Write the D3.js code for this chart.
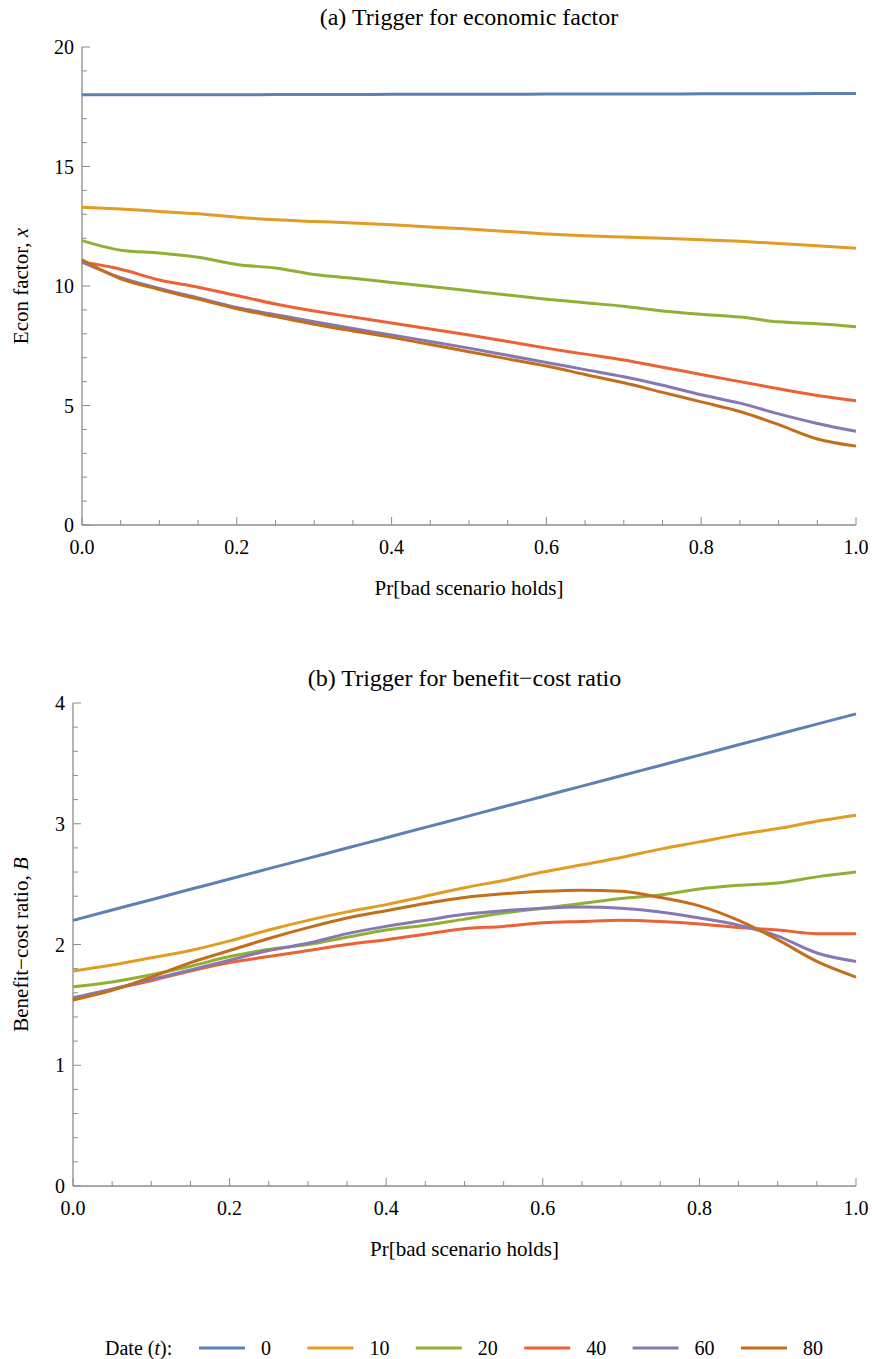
<!DOCTYPE html>
<html>
<head>
<meta charset="utf-8">
<script src="https://cdn.jsdelivr.net/npm/d3@7"></script>
<style>
  body { margin: 0; background: #fff; }
</style>
</head>
<body>
<div id="chart"></div>
<script>
// x grid shared by every curve: Pr[bad scenario holds]
var probs = [0, 0.05, 0.1, 0.15, 0.2, 0.25, 0.3, 0.35, 0.4, 0.45, 0.5, 0.55, 0.6, 0.65, 0.7, 0.75, 0.8, 0.85, 0.9, 0.95, 1.0];
var dates = ["0", "10", "20", "40", "60", "80"];
var colors = ["#5E81B5", "#E19C24", "#8FB032", "#EB6235", "#8778B3", "#C56E1A"];

// (a) econ factor trigger, one array per date
var econT0  = [18.0, 18.0, 18.0, 18.0, 18.0, 18.01, 18.01, 18.01, 18.02, 18.02, 18.02, 18.02, 18.03, 18.03, 18.03, 18.03, 18.04, 18.04, 18.04, 18.05, 18.05];
var econT10 = [13.3, 13.22, 13.12, 13.02, 12.88, 12.77, 12.7, 12.64, 12.56, 12.47, 12.38, 12.28, 12.18, 12.1, 12.05, 12.0, 11.94, 11.87, 11.78, 11.68, 11.58];
var econT20 = [11.9, 11.5, 11.38, 11.2, 10.9, 10.75, 10.48, 10.32, 10.15, 9.98, 9.8, 9.62, 9.45, 9.3, 9.15, 8.95, 8.82, 8.7, 8.5, 8.42, 8.3];
var econT40 = [11.0, 10.7, 10.25, 9.95, 9.6, 9.25, 8.95, 8.7, 8.45, 8.2, 7.95, 7.68, 7.4, 7.15, 6.9, 6.6, 6.3, 6.0, 5.7, 5.42, 5.2];
var econT60 = [11.0, 10.35, 9.9, 9.5, 9.1, 8.8, 8.5, 8.22, 7.95, 7.68, 7.4, 7.1, 6.8, 6.5, 6.2, 5.85, 5.45, 5.1, 4.65, 4.25, 3.92];
var econT80 = [11.1, 10.3, 9.85, 9.45, 9.05, 8.72, 8.4, 8.12, 7.85, 7.55, 7.25, 6.95, 6.65, 6.3, 5.95, 5.55, 5.15, 4.75, 4.2, 3.6, 3.3];

// (b) benefit-cost ratio trigger
var bcrT0  = [2.2, 2.286, 2.371, 2.457, 2.542, 2.628, 2.713, 2.799, 2.884, 2.97, 3.055, 3.141, 3.226, 3.312, 3.397, 3.483, 3.568, 3.654, 3.739, 3.825, 3.91];
var bcrT10 = [1.78, 1.83, 1.89, 1.95, 2.03, 2.12, 2.2, 2.27, 2.33, 2.4, 2.47, 2.53, 2.6, 2.66, 2.72, 2.79, 2.85, 2.91, 2.96, 3.02, 3.07];
var bcrT20 = [1.65, 1.69, 1.75, 1.82, 1.9, 1.96, 2.0, 2.06, 2.12, 2.16, 2.21, 2.26, 2.3, 2.34, 2.38, 2.41, 2.46, 2.49, 2.51, 2.56, 2.6];
var bcrT40 = [1.55, 1.63, 1.7, 1.78, 1.85, 1.9, 1.95, 2.0, 2.04, 2.085, 2.13, 2.15, 2.18, 2.19, 2.2, 2.19, 2.17, 2.14, 2.12, 2.09, 2.09];
var bcrT60 = [1.56, 1.63, 1.71, 1.79, 1.87, 1.95, 2.01, 2.09, 2.15, 2.2, 2.25, 2.28, 2.3, 2.31, 2.3, 2.27, 2.22, 2.16, 2.07, 1.93, 1.86];
var bcrT80 = [1.54, 1.62, 1.73, 1.85, 1.95, 2.05, 2.14, 2.22, 2.28, 2.34, 2.39, 2.42, 2.44, 2.45, 2.44, 2.39, 2.32, 2.2, 2.04, 1.86, 1.73];

var xTicks = [0, 0.2, 0.4, 0.6, 0.8, 1.0];

var W = 872, H = 1359;
var axisColor = "#8c8c8c";
var serif = "'Liberation Serif', 'Times New Roman', Times, 'DejaVu Serif', serif";

var svg = d3.select("#chart").append("svg")
    .attr("width", W).attr("height", H)
    .attr("font-family", serif)
    .style("font-family", serif);

function drawPanel(opt) {
    var x = d3.scaleLinear().domain([0, 1]).range([opt.left, opt.right]);
    var y = d3.scaleLinear().domain(opt.yDomain).range([opt.bottom, opt.top]);
    var g = svg.append("g");

    // minor + major ticks, drawn inward like Mathematica frames
    var xMinor = d3.range(0, 1.0001, 0.05);
    g.selectAll("line.xminor").data(xMinor).enter().append("line")
        .attr("x1", function(d){ return x(d); }).attr("x2", function(d){ return x(d); })
        .attr("y1", y(0))
        .attr("y2", function(d){ return y(0) - (Math.abs(d * 5 - Math.round(d * 5)) < 1e-6 ? 8 : 5); })
        .attr("stroke", axisColor).attr("stroke-width", 1);

    var yMinor = d3.range(opt.yDomain[0], opt.yDomain[1] + 1e-6, opt.yMinorStep);
    g.selectAll("line.yminor").data(yMinor).enter().append("line")
        .attr("y1", function(d){ return y(d); }).attr("y2", function(d){ return y(d); })
        .attr("x1", x(0))
        .attr("x2", function(d){
            var r = d / opt.yMajorStep;
            return x(0) + (Math.abs(r - Math.round(r)) < 1e-6 ? 8 : 5);
        })
        .attr("stroke", axisColor).attr("stroke-width", 1);

    // axis lines
    g.append("line").attr("x1", x(0)).attr("x2", x(1)).attr("y1", y(0)).attr("y2", y(0))
        .attr("stroke", axisColor).attr("stroke-width", 1.3);
    g.append("line").attr("x1", x(0)).attr("x2", x(0)).attr("y1", y(0)).attr("y2", y(opt.yDomain[1]))
        .attr("stroke", axisColor).attr("stroke-width", 1.3);

    // tick labels
    g.selectAll("text.xt").data(xTicks).enter().append("text")
        .attr("x", function(d){ return x(d); }).attr("y", y(0) + 29)
        .attr("text-anchor", "middle").attr("font-size", 20)
        .text(function(d){ return d.toFixed(1); });

    var yTicks = d3.range(opt.yDomain[0], opt.yDomain[1] + 1e-6, opt.yMajorStep);
    g.selectAll("text.yt").data(yTicks).enter().append("text")
        .attr("x", x(0) - 8).attr("y", function(d){ return y(d) + 7; })
        .attr("text-anchor", "end").attr("font-size", 20)
        .text(function(d){ return d; });

    // curves
    var line = d3.line()
        .x(function(d){ return x(d[0]); })
        .y(function(d){ return y(d[1]); })
        .curve(d3.curveMonotoneX);

    g.selectAll("path.curve").data(opt.series).enter().append("path")
        .attr("fill", "none")
        .attr("stroke", function(d, i){ return colors[i]; })
        .attr("stroke-width", 3)
        .attr("stroke-linejoin", "round")
        .attr("d", function(vals){
            return line(probs.map(function(p, i){ return [p, vals[i]]; }));
        });

    // title and axis labels
    var cx = (opt.left + opt.right) / 2;
    g.append("text").attr("x", cx).attr("y", opt.titleY)
        .attr("text-anchor", "middle").attr("font-size", 24).text(opt.title);
    g.append("text").attr("x", cx).attr("y", y(0) + 70)
        .attr("text-anchor", "middle").attr("font-size", 21).text("Pr[bad scenario holds]");

    var yl = g.append("text")
        .attr("transform", "translate(28," + ((opt.top + opt.bottom) / 2) + ") rotate(-90)")
        .attr("text-anchor", "middle").attr("font-size", 21);
    yl.append("tspan").text(opt.yLabel);
    yl.append("tspan").attr("font-style", "italic").text(opt.yVar);
}

drawPanel({
    left: 82, right: 856, top: 47, bottom: 525,
    yDomain: [0, 20], yMajorStep: 5, yMinorStep: 1,
    titleY: 25, title: "(a) Trigger for economic factor",
    yLabel: "Econ factor, ", yVar: "x",
    series: [econT0, econT10, econT20, econT40, econT60, econT80]
});

drawPanel({
    left: 73, right: 856, top: 703, bottom: 1186,
    yDomain: [0, 4], yMajorStep: 1, yMinorStep: 0.2,
    titleY: 686, title: "(b) Trigger for benefit\u2212cost ratio",
    yLabel: "Benefit\u2212cost ratio, ", yVar: "B",
    series: [bcrT0, bcrT10, bcrT20, bcrT40, bcrT60, bcrT80]
});

// legend along the bottom
var legY = 1348;
var leg = svg.append("g");
var lt = leg.append("text").attr("x", 105).attr("y", legY + 7).attr("font-size", 20);
lt.append("tspan").text("Date (");
lt.append("tspan").attr("font-style", "italic").text("t");
lt.append("tspan").text("):");

var items = leg.selectAll("g.item").data(dates).enter().append("g")
    .attr("transform", function(d, i){ return "translate(" + (199 + i * 108.4) + "," + legY + ")"; });
items.append("line").attr("x1", 0).attr("x2", 46).attr("y1", 0).attr("y2", 0)
    .attr("stroke", function(d, i){ return colors[i]; }).attr("stroke-width", 3);
items.append("text").attr("x", 62).attr("y", 7).attr("font-size", 20)
    .text(function(d){ return d; });
</script>
</body>
</html>
